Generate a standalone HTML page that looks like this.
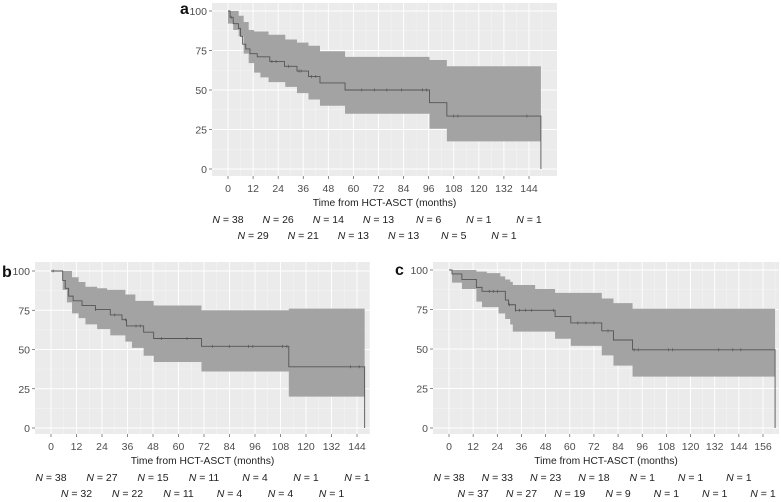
<!DOCTYPE html>
<html><head><meta charset="utf-8"><style>
body{margin:0;background:#fff;width:781px;height:497px;overflow:hidden;font-family:"Liberation Sans",sans-serif}
svg text{font-family:"Liberation Sans",sans-serif}
</style></head><body>
<svg id="fig" width="781" height="497" viewBox="0 0 781 497"></svg>
<script>
// Panel a data
const aTimes=[0,1,2.5,5,6,7,8.5,10.5,14,20,27,33,38.5,44,56,96.4,104.7];
const aSurv=[100,96,92,89,84,79,76,73,71,68,65,62,58.5,54.5,50,42,33.5];
const aEnd=149.7;
const aBandT=[0,2.5,5.1,7.5,9.9,12.5,15.5,19.4,27.4,33,38.5,44,56,96.4,104.7];
const aLo=[92,88,84,73,67,61,58,55,52,48,44,40,35,25.5,17.5];
const aHi=[100,100,97,93,88,87,87,85,82,80,78,74.5,71,69,65];
const aCens=[1.5,21,23,29,34,35,40,42,64,70,76,83,93,95,108,110,143];
const aRow1=["38","26","14","13","6","1","1"];
const aRow2=["29","21","13","13","5","1"];
// Panel b data
const bTimes=[0,5.5,6.7,8.3,10.4,14.6,20.9,27.9,33.4,35.5,43.6,48.3,70.8,111.9];
const bSurv=[100,94,89,84,81,78,75.5,72,69,65,61,57,52,39];
const bEnd=147.6;
const bBandT=[0,5.5,7.5,9.9,13,16.2,21.7,26.4,27.9,35,38.1,39.7,43.6,48.3,70.8,111.9];
const bLo=[100,88,80,73,70,66,63,63,59,55,51,51,46,42,36,20];
const bHi=[100,100,100,96,93,90,89,88,88,85,85,81,81,78,75,76];
const bCens=[1,21,30,35,40,42,52,64,76,84,93,95,109,111,141,145];
const bRow1=["38","27","15","11","4","1","1"];
const bRow2=["32","22","11","4","4","1"];
// Panel c data
const cTimes=[0,1.5,6.4,13.6,16.4,28,29.6,33,52.7,60.5,75.9,81.7,91.2];
const cSurv=[100,97.5,94,89,86.5,81,78,74.5,70.5,66.5,61.5,55.7,49.5];
const cEnd=162;
const cBandT=[0,1.5,6.4,13.6,16.4,18.8,24.6,25.5,27.9,30.4,31.7,42.8,52.7,60.5,75.9,81.7,91.2];
const cLo=[100,92,88,80,76.5,76.5,72.5,72.5,69,65.5,61,61,56.5,52,46,39.5,32.5];
const cHi=[100,100,100,99,99,98,98,96,94,92.5,90.5,88,85.5,85.5,82,79,75.5];
const cCens=[20,22,24,30,33,35,38,41,52,64,68,72,79,92,94,109,111,134,141,145];
const cRow1=["38","33","23","18","1","1","1"];
const cRow2=["37","27","19","9","1","1","1"];

const NS="http://www.w3.org/2000/svg";
const svg=document.getElementById('fig');
function mk(tag,attrs,parent){const e=document.createElementNS(NS,tag);for(const k in attrs)e.setAttribute(k,attrs[k]);(parent||svg).appendChild(e);return e;}

function panel(p){
  const g=mk('g',{});
  
  
  const X=m=>p.x0+m*p.xs, Y=v=>p.y0-v*p.ys;
  const bg=mk('rect',{x:p.L,y:p.T,width:p.R-p.L,height:p.B-p.T,fill:'#ebebeb'},g);
  
  
  for(let m=6;X(m)<p.R;m+=12) mk('line',{x1:X(m),x2:X(m),y1:p.T,y2:p.B,stroke:'#f5f5f5','stroke-width':0.5},g);
  for(let v=12.5;v<100;v+=25) mk('line',{x1:p.L,x2:p.R,y1:Y(v),y2:Y(v),stroke:'#f5f5f5','stroke-width':0.5},g);
  for(let m=0;m<=p.xmax;m+=12){
    mk('line',{x1:X(m),x2:X(m),y1:p.T,y2:p.B,stroke:'#fff','stroke-width':0.9},g);
    mk('line',{x1:X(m),x2:X(m),y1:p.B,y2:p.B+3,stroke:'#555','stroke-width':0.7},g);
    const t=mk('text',{x:X(m),y:p.B+16,'text-anchor':'middle','font-size':10.5,fill:'#4d4d4d'},g);t.textContent=m;
    
    
  }
  for(let v=0;v<=100;v+=25){
    mk('line',{x1:p.L,x2:p.R,y1:Y(v),y2:Y(v),stroke:'#fff','stroke-width':0.9},g);
    mk('line',{x1:p.L-3,x2:p.L,y1:Y(v),y2:Y(v),stroke:'#555','stroke-width':0.7},g);
    const t=mk('text',{x:p.L-5,y:Y(v)+4,'text-anchor':'end','font-size':10.5,fill:'#4d4d4d'},g);t.textContent=v;
    
    
  }
  let d='';
  const n=p.bt.length;
  for(let i=0;i<n;i++){const x1=X(p.bt[i]),x2=X(i<n-1?p.bt[i+1]:p.end);d+=(i?'L':'M')+x1+','+Y(p.hi[i])+'L'+x2+','+Y(p.hi[i]);}
  for(let i=n-1;i>=0;i--){const x1=X(p.bt[i]),x2=X(i<n-1?p.bt[i+1]:p.end);d+='L'+x2+','+Y(p.lo[i])+'L'+x1+','+Y(p.lo[i]);}
  const band=mk('path',{d:d+'Z',fill:'#a3a3a3'},g);
  
  
  let c='';
  for(let i=0;i<p.t.length;i++){const x1=X(p.t[i]),x2=X(i<p.t.length-1?p.t[i+1]:p.end);c+=(i?'L':'M')+x1+','+Y(p.s[i])+'L'+x2+','+Y(p.s[i]);}
  c+='L'+X(p.end)+','+Y(0);
  const line=mk('path',{d:c,fill:'none',stroke:'#555','stroke-width':0.9},g);
  
  
  p.cens.forEach(m=>{let v=p.s[0];for(let i=0;i<p.t.length;i++)if(p.t[i]<=m)v=p.s[i];
    const ck=mk('line',{x1:X(m),x2:X(m),y1:Y(v)-1.5,y2:Y(v)+1.5,stroke:'#555','stroke-width':0.7},g);
    
    });
  const tt=mk('text',{x:(p.L+p.R)/2,y:p.B+30,'text-anchor':'middle','font-size':10.3,fill:'#222'},g);tt.textContent='Time from HCT-ASCT (months)';
  
  
  const rows=[[p.r1,0,p.B+47],[p.r2,12,p.B+63]];
  rows.forEach(([arr,off,yy])=>arr.forEach((s,i)=>{
    const t=mk('text',{x:X(off+i*24),y:yy,'text-anchor':'middle','font-size':10.5,fill:'#222'},g);
    t.innerHTML='<tspan font-style="italic">N</tspan> = '+s;
    
    
  }));
  const lab=mk('text',{x:p.lx,y:p.ly,'font-size':16,'font-weight':'bold',fill:'#111'},g);lab.textContent=p.id;
  
  
}
panel({id:'a',L:212,R:557,T:3,B:176,x0:228,xs:301/144,y0:169,ys:1.58,xmax:144,t:aTimes,s:aSurv,end:aEnd,bt:aBandT,lo:aLo,hi:aHi,cens:aCens,r1:aRow1,r2:aRow2,lx:180,ly:14});
panel({id:'b',L:35,R:370,T:262,B:434,x0:51,xs:306/144,y0:428,ys:1.57,xmax:144,t:bTimes,s:bSurv,end:bEnd,bt:bBandT,lo:bLo,hi:bHi,cens:bCens,r1:bRow1,r2:bRow2,lx:2,ly:277});
panel({id:'c',L:433,R:779,T:262,B:434,x0:449,xs:314/156,y0:428,ys:1.58,xmax:156,t:cTimes,s:cSurv,end:cEnd,bt:cBandT,lo:cLo,hi:cHi,cens:cCens,r1:cRow1,r2:cRow2,lx:395,ly:275});
</script>
</body></html>
